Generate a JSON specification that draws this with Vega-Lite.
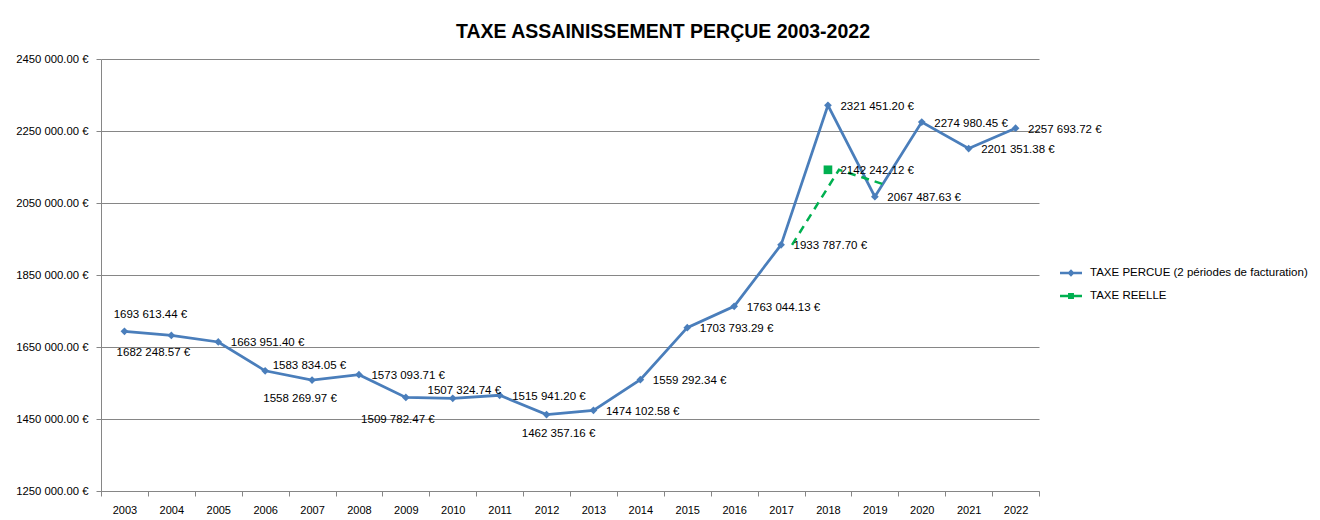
{
  "$schema": "https://vega.github.io/schema/vega-lite/v6.json",
  "width": 938,
  "height": 432,
  "autosize": {"type": "none"},
  "padding": {"left": 101, "top": 59, "right": 281, "bottom": 29},
  "background": "white",
  "title": {
    "text": "TAXE ASSAINISSEMENT PERÇUE 2003-2022",
    "font": "Liberation Sans",
    "fontSize": 19.5,
    "fontWeight": "bold",
    "color": "#000000",
    "anchor": "middle",
    "frame": "group",
    "dx": 93,
    "offset": 11
  },
  "config": {
    "view": {"stroke": null},
    "font": "Liberation Sans",
    "axis": {
      "domainColor": "#868686",
      "tickColor": "#868686",
      "gridColor": "#868686",
      "labelColor": "#000000",
      "labelFont": "Liberation Sans",
      "labelFontSize": 11.3
    }
  },
  "data": {
    "values": [
      {"annee": 2003, "serie": "TAXE PERCUE (2 périodes de facturation)", "valeur": 1693613.44},
      {"annee": 2004, "serie": "TAXE PERCUE (2 périodes de facturation)", "valeur": 1682248.57},
      {"annee": 2005, "serie": "TAXE PERCUE (2 périodes de facturation)", "valeur": 1663951.40},
      {"annee": 2006, "serie": "TAXE PERCUE (2 périodes de facturation)", "valeur": 1583834.05},
      {"annee": 2007, "serie": "TAXE PERCUE (2 périodes de facturation)", "valeur": 1558269.97},
      {"annee": 2008, "serie": "TAXE PERCUE (2 périodes de facturation)", "valeur": 1573093.71},
      {"annee": 2009, "serie": "TAXE PERCUE (2 périodes de facturation)", "valeur": 1509782.47},
      {"annee": 2010, "serie": "TAXE PERCUE (2 périodes de facturation)", "valeur": 1507324.74},
      {"annee": 2011, "serie": "TAXE PERCUE (2 périodes de facturation)", "valeur": 1515941.20},
      {"annee": 2012, "serie": "TAXE PERCUE (2 périodes de facturation)", "valeur": 1462357.16},
      {"annee": 2013, "serie": "TAXE PERCUE (2 périodes de facturation)", "valeur": 1474102.58},
      {"annee": 2014, "serie": "TAXE PERCUE (2 périodes de facturation)", "valeur": 1559292.34},
      {"annee": 2015, "serie": "TAXE PERCUE (2 périodes de facturation)", "valeur": 1703793.29},
      {"annee": 2016, "serie": "TAXE PERCUE (2 périodes de facturation)", "valeur": 1763044.13},
      {"annee": 2017, "serie": "TAXE PERCUE (2 périodes de facturation)", "valeur": 1933787.70},
      {"annee": 2018, "serie": "TAXE PERCUE (2 périodes de facturation)", "valeur": 2321451.20},
      {"annee": 2019, "serie": "TAXE PERCUE (2 périodes de facturation)", "valeur": 2067487.63},
      {"annee": 2020, "serie": "TAXE PERCUE (2 périodes de facturation)", "valeur": 2274980.45},
      {"annee": 2021, "serie": "TAXE PERCUE (2 périodes de facturation)", "valeur": 2201351.38},
      {"annee": 2022, "serie": "TAXE PERCUE (2 périodes de facturation)", "valeur": 2257693.72},
      {"annee": 2017, "serie": "TAXE REELLE", "valeur": 1933787.70},
      {"annee": 2018, "serie": "TAXE REELLE", "valeur": 2142242.12},
      {"annee": 2019, "serie": "TAXE REELLE", "valeur": 2100000.00}
    ]
  },
  "transform": [
    {"calculate": "floor(datum.valeur / 1000) + ' ' + format(datum.valeur % 1000, '06.2f') + ' €'", "as": "etiquette"}
  ],
  "encoding": {
    "x": {
      "field": "annee",
      "type": "ordinal",
      "scale": {"type": "band", "paddingInner": 0, "paddingOuter": 0},
      "axis": {
        "title": null,
        "labelAngle": 0,
        "labelFontSize": 11,
        "tickBand": "extent",
        "tickSize": 5,
        "labelPadding": 8,
        "grid": false
      }
    },
    "y": {
      "field": "valeur",
      "type": "quantitative",
      "scale": {"domain": [1250000, 2450000], "nice": false, "zero": false},
      "axis": {
        "title": null,
        "values": [1250000, 1450000, 1650000, 1850000, 2050000, 2250000, 2450000],
        "labelExpr": "floor(datum.value / 1000) + ' ' + format(datum.value % 1000, '06.2f') + ' €'",
        "grid": true,
        "tickSize": 5,
        "labelPadding": 8
      }
    }
  },
  "layer": [
    {
      "transform": [{"filter": "datum.serie === 'TAXE PERCUE (2 périodes de facturation)'"}],
      "mark": {"type": "line", "color": "#4A7EBB", "strokeWidth": 2.75}
    },
    {
      "transform": [{"filter": "datum.serie === 'TAXE PERCUE (2 périodes de facturation)'"}],
      "mark": {"type": "point", "shape": "diamond", "filled": true, "color": "#4A7EBB", "size": 60, "opacity": 1}
    },
    {
      "transform": [{"filter": "datum.serie === 'TAXE REELLE'"}],
      "mark": {"type": "line", "color": "#00B050", "strokeWidth": 2.5, "strokeDash": [8, 6], "xOffset": 11}
    },
    {
      "transform": [{"filter": "datum.serie === 'TAXE REELLE' && datum.annee === 2018"}],
      "mark": {"type": "point", "shape": "square", "filled": true, "color": "#00B050", "size": 75, "opacity": 1}
    },
    {
      "transform": [{"filter": "(datum.serie === 'TAXE PERCUE (2 périodes de facturation)' && indexof([2005, 2008, 2011, 2013, 2014, 2015, 2016, 2017, 2018, 2019, 2020, 2021, 2022], datum.annee) >= 0) || (datum.serie === 'TAXE REELLE' && datum.annee === 2018)"}],
      "mark": {"type": "text", "align": "left", "baseline": "middle", "dx": 12.5, "dy": 1.5, "fontSize": 11.5, "color": "#000000"},
      "encoding": {"text": {"field": "etiquette"}}
    },
    {
      "transform": [{"filter": "datum.annee === 2006"}],
      "mark": {"type": "text", "align": "left", "baseline": "middle", "dx": 7.5, "dy": -5, "fontSize": 11.5, "color": "#000000"},
      "encoding": {"text": {"field": "etiquette"}}
    },
    {
      "transform": [{"filter": "datum.annee === 2010"}],
      "mark": {"type": "text", "align": "center", "baseline": "middle", "dx": 11.5, "dy": -7, "fontSize": 11.5, "color": "#000000"},
      "encoding": {"text": {"field": "etiquette"}}
    },
    {
      "transform": [{"filter": "datum.annee === 2003"}],
      "mark": {"type": "text", "align": "center", "baseline": "middle", "dx": 26, "dy": -16, "fontSize": 11.5, "color": "#000000"},
      "encoding": {"text": {"field": "etiquette"}}
    },
    {
      "transform": [{"filter": "datum.annee === 2004"}],
      "mark": {"type": "text", "align": "center", "baseline": "middle", "dx": -18, "dy": 18, "fontSize": 11.5, "color": "#000000"},
      "encoding": {"text": {"field": "etiquette"}}
    },
    {
      "transform": [{"filter": "datum.annee === 2007"}],
      "mark": {"type": "text", "align": "center", "baseline": "middle", "dx": -12, "dy": 19, "fontSize": 11.5, "color": "#000000"},
      "encoding": {"text": {"field": "etiquette"}}
    },
    {
      "transform": [{"filter": "datum.annee === 2009"}],
      "mark": {"type": "text", "align": "center", "baseline": "middle", "dx": -8, "dy": 23, "fontSize": 11.5, "color": "#000000"},
      "encoding": {"text": {"field": "etiquette"}}
    },
    {
      "transform": [{"filter": "datum.annee === 2012"}],
      "mark": {"type": "text", "align": "center", "baseline": "middle", "dx": 12, "dy": 19, "fontSize": 11.5, "color": "#000000"},
      "encoding": {"text": {"field": "etiquette"}}
    },
    {
      "mark": {"type": "point", "filled": true, "clip": true, "size": 484, "opacity": 1},
      "encoding": {
        "y": {"datum": 0, "type": "quantitative"},
        "color": {
          "field": "serie",
          "type": "nominal",
          "scale": {
            "domain": ["TAXE PERCUE (2 périodes de facturation)", "TAXE REELLE"],
            "range": ["#4A7EBB", "#00B050"]
          },
          "legend": {
            "title": null,
            "orient": "none",
            "legendX": 959,
            "legendY": 203,
            "padding": 0,
            "symbolSize": 484,
            "symbolStrokeWidth": 0,
            "labelOffset": 8,
            "rowPadding": 6,
            "labelFont": "Liberation Sans",
            "labelFontSize": 11.5,
            "labelColor": "#000000",
            "labelLimit": 400
          }
        },
        "shape": {
          "field": "serie",
          "type": "nominal",
          "scale": {
            "domain": ["TAXE PERCUE (2 périodes de facturation)", "TAXE REELLE"],
            "range": [
              "M-1,-0.11L1,-0.11L1,0.11L-1,0.11Z M0,-0.33L0.33,0L0,0.33L-0.33,0Z",
              "M-1,-0.11L1,-0.11L1,0.11L-1,0.11Z M-0.27,-0.27L0.27,-0.27L0.27,0.27L-0.27,0.27Z"
            ]
          }
        }
      }
    }
  ]
}
